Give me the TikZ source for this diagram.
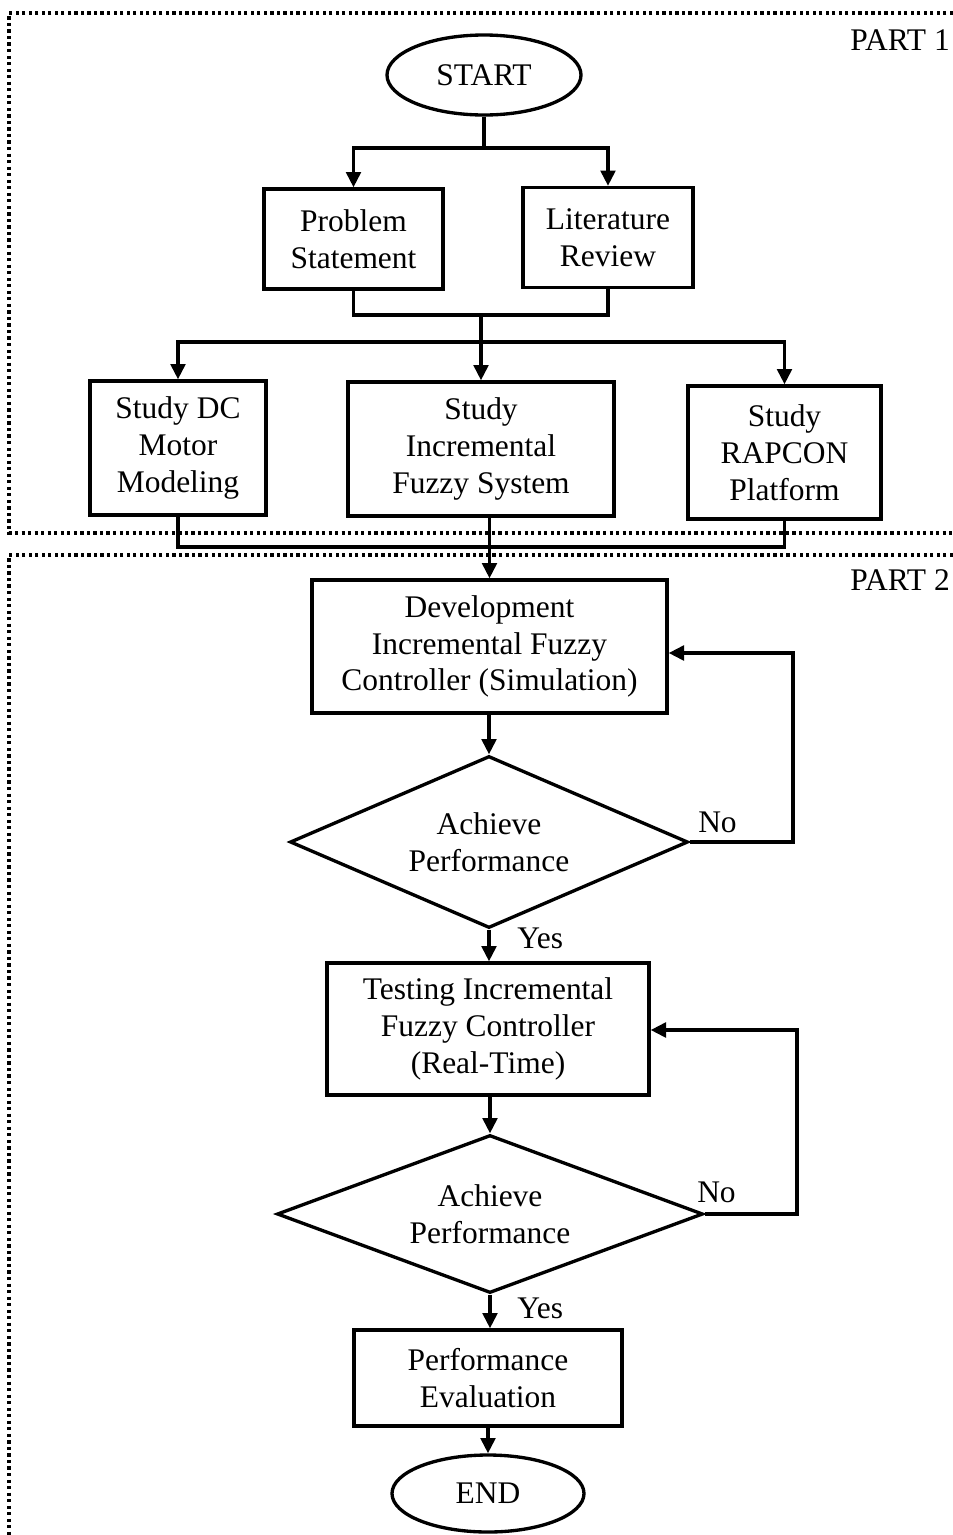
\documentclass[tikz,border=0pt]{standalone}
\usepackage{fontspec}
\setmainfont{Liberation Serif}
\usetikzlibrary{arrows.meta,shapes.geometric}

\begin{document}
\begin{tikzpicture}[
  x=0.75pt, y=-0.75pt,
  every node/.style={font=\fontsize{23.6}{27.6}\selectfont},
  flow/.style={line width=2.5pt, draw=black},
  stepbox/.style={flow, rectangle, align=center, inner sep=0pt},
  terminal/.style={flow, ellipse, align=center, inner sep=0pt},
  decision/.style={flow, diamond, align=center, inner sep=0pt},
  link/.style={line width=2.5pt},
  arrowlink/.style={link, -{Triangle[length=11.5pt,width=11pt]}},
  partframe/.style={line width=2.4pt, dash pattern=on 2.4pt off 2.5pt},
  tag/.style={inner sep=0pt}
]
\useasboundingbox (0,0) rectangle (953,1535);

% dotted frames around the two parts
\draw[partframe] (953,13) -- (9,13) -- (9,533) -- (953,533);
\draw[partframe] (953,555) -- (9,555) -- (9,1535);
\node[tag, anchor=base east] (part1) at (950,50) {PART 1};
\node[tag, anchor=base east] (part2) at (950,590) {PART 2};

% part 1
\node[terminal, minimum width=145.5pt, minimum height=60pt] (start) at (484,75) {START};
\node[stepbox, minimum width=134.25pt, minimum height=75pt] (prob) at (353.5,239) {Problem\\Statement};
\node[stepbox, minimum width=127.5pt, minimum height=75pt] (lit) at (608,237.5) {Literature\\Review};
\node[stepbox, minimum width=132pt, minimum height=100.5pt] (dc) at (178,448) {Study DC\\Motor\\Modeling};
\node[stepbox, minimum width=199.5pt, minimum height=100.5pt] (sys) at (481,449) {Study\\Incremental\\Fuzzy System};
\node[stepbox, minimum width=144.75pt, minimum height=99.75pt] (rap) at (784.5,452.5) {Study\\RAPCON\\Platform};

% part 2
\node[stepbox, minimum width=266.25pt, minimum height=99.75pt] (dev) at (489.5,646.5) {Development\\Incremental Fuzzy\\Controller (Simulation)};
\node[decision, aspect=2.3, minimum width=298.5pt, minimum height=129pt] (dia1) at (489,842) {Achieve\\Performance};
\node[stepbox, minimum width=241.5pt, minimum height=99pt] (test) at (488,1029) {Testing Incremental\\Fuzzy Controller\\(Real-Time)};
\node[decision, aspect=2.7, minimum width=319.5pt, minimum height=118.5pt] (dia2) at (490,1214) {Achieve\\Performance};
\node[stepbox, minimum width=201pt, minimum height=72pt] (perf) at (488,1378) {Performance\\Evaluation};
\node[terminal, minimum width=144pt, minimum height=57.75pt] (end) at (488,1493.5) {END};

% junction points
\coordinate (s1) at (484,148);
\coordinate (m1) at (481,315);
\coordinate (m2) at (481,342);
\coordinate (m3) at (488,547);
\coordinate (l1) at (793,653);
\coordinate (l2) at (797,1030);

% connectors, part 1
\draw[link] (start) -- (s1);
\draw[arrowlink] (s1) -| (prob);
\draw[arrowlink] (s1) -| (lit);
\draw[link] (prob.south) |- (m1) -| (lit.south);
\draw[arrowlink] (m1) -- (sys);
\draw[arrowlink] (m2) -| (dc);
\draw[arrowlink] (m2) -| (rap);
\draw[link] (dc.south) |- (m3) -| (rap.south);
\draw[arrowlink] (dev.north |- sys.south) -- (dev.north);

% connectors, part 2
\draw[arrowlink] (dia1.north |- dev.south) -- (dia1.north);
\draw[arrowlink] (dia1.east) -| (l1) -- (l1 -| dev.east);
\draw[arrowlink] (dia1.south) -- (dia1.south |- test.north);
\draw[arrowlink] (dia2.north |- test.south) -- (dia2.north);
\draw[arrowlink] (dia2.east) -| (l2) -- (l2 -| test.east);
\draw[arrowlink] (dia2.south) -- (dia2.south |- perf.north);
\draw[arrowlink] (perf) -- (perf |- end.north);

% branch labels
\node[tag, anchor=base west] (no1) at (698,832) {No};
\node[tag, anchor=base west] (yes1) at (517,948) {Yes};
\node[tag, anchor=base west] (no2) at (697,1202) {No};
\node[tag, anchor=base west] (yes2) at (517,1318) {Yes};
\end{tikzpicture}
\end{document}
